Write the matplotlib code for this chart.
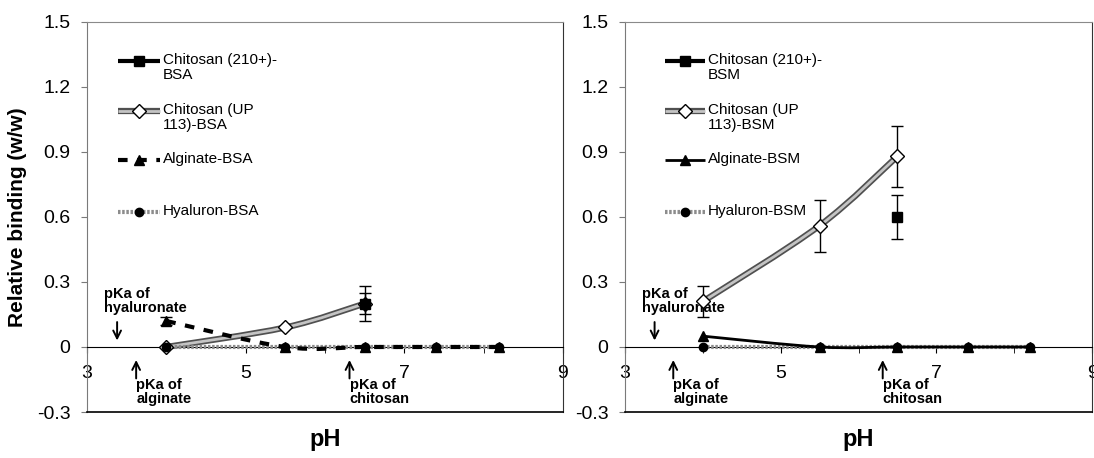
import numpy as np
import matplotlib.pyplot as plt
from matplotlib.path import Path
from matplotlib.patches import PathPatch
import matplotlib.patheffects as pe

plt.rcParams['font.family'] = ['Liberation Sans', 'DejaVu Sans']

# -------------------------- DATA --------------------------
ph_all = [4.0, 5.5, 6.5, 7.4, 8.2]
ph_up113 = [4.0, 5.5, 6.5]
ph_c210 = [6.5]

# BSA panel
bsa_c210 = [0.20]
bsa_c210_err = [0.08]
bsa_up113 = [0.0, 0.09, 0.20]
bsa_up113_err = [0.0, 0.0, 0.05]
bsa_alg = [0.12, 0.0, 0.0, 0.0, 0.0]
bsa_alg_err = [0.02, 0.0, 0.0, 0.0, 0.0]
bsa_hya = [0.0, 0.0, 0.0, 0.0, 0.0]

# BSM panel
bsm_c210 = [0.60]
bsm_c210_err = [0.10]
bsm_up113 = [0.21, 0.56, 0.88]
bsm_up113_err = [0.07, 0.12, 0.14]
bsm_alg = [0.05, 0.0, 0.0, 0.0, 0.0]
bsm_alg_err = [0.0, 0.0, 0.0, 0.0, 0.0]
bsm_hya = [0.0, 0.0, 0.0, 0.0, 0.0]

labels_bsa = ['Chitosan (210+)-\nBSA', 'Chitosan (UP\n113)-BSA', 'Alginate-BSA', 'Hyaluron-BSA']
labels_bsm = ['Chitosan (210+)-\nBSM', 'Chitosan (UP\n113)-BSM', 'Alginate-BSM', 'Hyaluron-BSM']

x_ticks = [3, 5, 7, 9]
x_minor = [4, 6, 8]
y_ticks = [-0.3, 0, 0.3, 0.6, 0.9, 1.2, 1.5]
y_tick_labels = ['-0.3', '0', '0.3', '0.6', '0.9', '1.2', '1.5']

pka_hyaluronate = 3.38
pka_alginate = 3.62
pka_chitosan = 6.31

# -------------------------- STYLES --------------------------
st_c210 = dict(color='black', lw=3, ls='-')
st_up113 = dict(color='#c4c4c4', lw=2, ls='-',
                path_effects=[pe.Stroke(linewidth=4.5, foreground='#505050'), pe.Normal()])
st_alg_bsa = dict(color='black', lw=3, ls=(0, (2.3, 2.3)))
st_alg_bsm = dict(color='black', lw=2, ls='-')
st_hya = dict(color='#8c8c8c', lw=3, ls=(0, (0.6, 0.4)))

mk_c210 = dict(marker='s', ms=7.5, mfc='black', mec='black')
mk_up113 = dict(marker='D', ms=7, mfc='white', mec='black', mew=1)
mk_alg = dict(marker='^', ms=7.5, mfc='black', mec='black')
mk_hya = dict(marker='o', ms=6, mfc='black', mec='black')


def smooth_path(x, y):
    # Excel-like smoothed line (Catmull-Rom as cubic Bezier)
    pts = np.column_stack([x, y]).astype(float)
    verts = [pts[0]]
    codes = [Path.MOVETO]
    n = len(pts)
    for i in range(n - 1):
        p0 = pts[max(i - 1, 0)]
        p1 = pts[i]
        p2 = pts[i + 1]
        p3 = pts[min(i + 2, n - 1)]
        verts += [p1 + (p2 - p0) / 6, p2 - (p3 - p1) / 6, p2]
        codes += [Path.CURVE4] * 3
    return Path(verts, codes)


def draw_series(ax, x, y, err, style, mk, z):
    if len(x) > 1:
        st = dict(style)
        patch = PathPatch(smooth_path(x, y), fill=False, ec=st.pop('color'),
                          lw=st.pop('lw'), ls=st.pop('ls'), zorder=z,
                          capstyle='butt', **st)
        ax.add_patch(patch)
    xe = [a for a, e in zip(x, err) if e > 0]
    ye = [b for b, e in zip(y, err) if e > 0]
    ee = [e for e in err if e > 0]
    if ee:
        ax.errorbar(xe, ye, yerr=ee, fmt='none', ecolor='black', elinewidth=1,
                    capsize=4, capthick=1, zorder=z + 0.5)
    ax.plot(x, y, ls='none', zorder=z + 1, **mk)


def draw_key(ax, x0, x1, xt, y, style, mk, label):
    ax.plot([x0, x1], [y, y], transform=ax.transAxes, clip_on=False,
            solid_capstyle='butt', dash_capstyle='butt', **style)
    ax.plot([(x0 + x1) / 2], [y], transform=ax.transAxes, clip_on=False, **mk)
    ax.text(xt, y + 0.021, label, transform=ax.transAxes, ha='left', va='top',
            fontsize=11, linespacing=1.15)


def setup_axes(ax):
    ax.set_xlim(3, 9)
    ax.set_ylim(-0.3, 1.5)
    ax.spines['bottom'].set_position(('data', 0))
    ax.spines['bottom'].set_color('black')
    ax.spines['left'].set_color('#7a7a7a')
    ax.spines['top'].set_color('#8a8a8a')
    ax.spines['right'].set_color('#333333')
    ax.axhline(-0.3, color='black', lw=1.2, clip_on=False, zorder=3)
    ax.set_xticks(x_ticks)
    ax.set_xticks(x_minor, minor=True)
    ax.set_yticks(y_ticks)
    ax.set_yticklabels(y_tick_labels)
    ax.tick_params(axis='x', which='both', direction='out', length=4, pad=9,
                   labelsize=14, color='black')
    ax.tick_params(axis='y', direction='out', length=4, labelsize=14,
                   color='#7a7a7a', pad=8)
    ax.set_xlabel('pH', fontsize=17, fontweight='bold')
    ax.xaxis.set_label_coords(0.5, -0.04)


def draw_pka(ax):
    ap = dict(arrowstyle='->', lw=1.4, color='black', shrinkA=0, shrinkB=0,
              mutation_scale=14)
    ax.annotate('', xy=(pka_hyaluronate, 0.03), xytext=(pka_hyaluronate, 0.115),
                arrowprops=ap)
    ax.text(3.22, 0.275, 'pKa of\nhyaluronate', ha='left', va='top',
            fontsize=10.5, fontweight='bold', linespacing=1.0)
    for xp, name in [(pka_alginate, 'alginate'), (pka_chitosan, 'chitosan')]:
        ax.annotate('', xy=(xp, -0.06), xytext=(xp, -0.145), arrowprops=ap)
        ax.text(xp, -0.145, 'pKa of\n' + name, ha='left', va='top',
                fontsize=10.5, fontweight='bold', linespacing=1.0)


fig = plt.figure(figsize=(10.94, 4.58), dpi=100)
ax1 = fig.add_axes([0.0795, 0.1004, 0.435, 0.852])
ax2 = fig.add_axes([0.5713, 0.1004, 0.427, 0.852])

# -------------------------- LEFT: BSA --------------------------
setup_axes(ax1)
draw_series(ax1, ph_all, bsa_hya, [0] * 5, st_hya, mk_hya, 4)
draw_series(ax1, ph_all, bsa_alg, bsa_alg_err, st_alg_bsa, mk_alg, 5)
draw_series(ax1, ph_up113, bsa_up113, bsa_up113_err, st_up113, mk_up113, 3)
draw_series(ax1, ph_c210, bsa_c210, bsa_c210_err, st_c210, mk_c210, 7)
draw_pka(ax1)
ax1.set_ylabel('Relative binding (w/w)', fontsize=15, fontweight='bold')
ax1.yaxis.set_label_coords(-0.125, 0.5)

key_y = [0.9, 0.772, 0.646, 0.513]
styles_bsa = [(st_c210, mk_c210), (st_up113, mk_up113), (st_alg_bsa, mk_alg), (st_hya, mk_hya)]
for yk, (st, mk), lab in zip(key_y, styles_bsa, labels_bsa):
    draw_key(ax1, 0.065, 0.153, 0.16, yk, st, mk, lab)

# -------------------------- RIGHT: BSM --------------------------
setup_axes(ax2)
draw_series(ax2, ph_all, bsm_hya, [0] * 5, st_hya, mk_hya, 4)
draw_series(ax2, ph_all, bsm_alg, bsm_alg_err, st_alg_bsm, mk_alg, 5)
draw_series(ax2, ph_up113, bsm_up113, bsm_up113_err, st_up113, mk_up113, 3)
draw_series(ax2, ph_c210, bsm_c210, bsm_c210_err, st_c210, mk_c210, 7)
draw_pka(ax2)

styles_bsm = [(st_c210, mk_c210), (st_up113, mk_up113), (st_alg_bsm, mk_alg), (st_hya, mk_hya)]
for yk, (st, mk), lab in zip(key_y, styles_bsm, labels_bsm):
    draw_key(ax2, 0.085, 0.171, 0.177, yk, st, mk, lab)

fig.savefig('out.png', dpi=100)
